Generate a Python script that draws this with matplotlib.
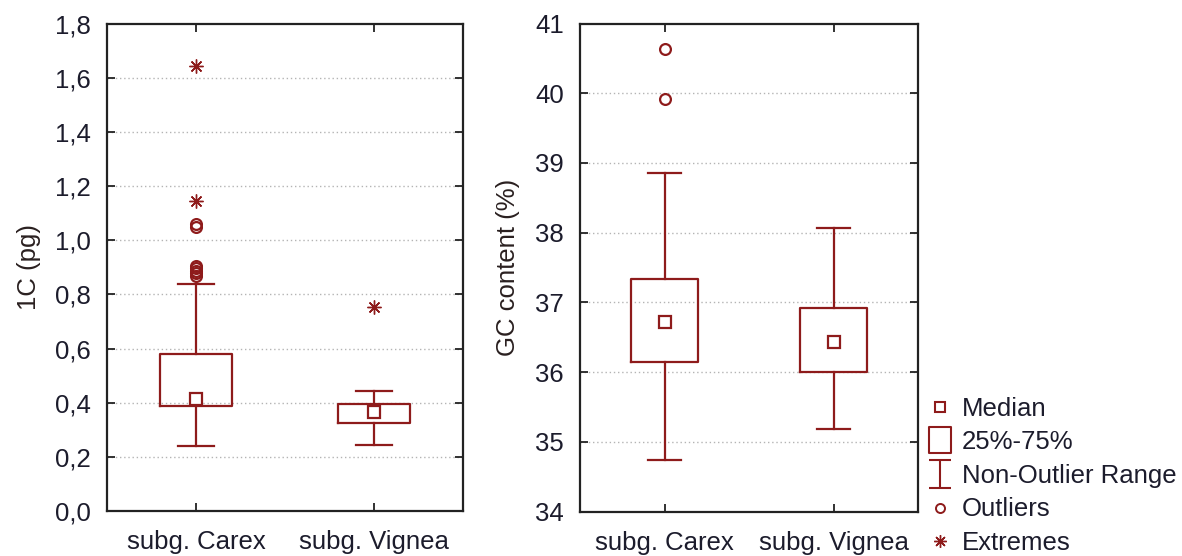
import matplotlib
matplotlib.use("Agg")
import matplotlib.pyplot as plt
from matplotlib.lines import Line2D
from matplotlib.path import Path

plt.rcParams['font.family'] = ['Liberation Sans', 'DejaVu Sans']

# ---------------- data ----------------
categories = ["subg. Carex", "subg. Vignea"]

# 1C (pg)
c1_median = [0.414, 0.364]
c1_q1 = [0.387, 0.326]
c1_q3 = [0.579, 0.394]
c1_whislo = [0.239, 0.245]
c1_whishi = [0.838, 0.445]
c1_outliers = [[0.868, 0.878, 0.888, 0.897, 0.905, 1.05, 1.06], []]
c1_extremes = [[1.146, 1.645], [0.755]]
c1_ticks = [0.0, 0.2, 0.4, 0.6, 0.8, 1.0, 1.2, 1.4, 1.6, 1.8]

# GC content (%)
gc_median = [36.72, 36.43]
gc_q1 = [36.14, 36.00]
gc_q3 = [37.33, 36.92]
gc_whislo = [34.74, 35.19]
gc_whishi = [38.85, 38.07]
gc_outliers = [[39.91, 40.64], []]
gc_extremes = [[], []]
gc_ticks = [34, 35, 36, 37, 38, 39, 40, 41]

legend_labels = ["Median", "25%-75%", "Non-Outlier Range", "Outliers", "Extremes"]

# ---------------- style ----------------
RED = '#8e1b1b'
TXT = '#1c1c2c'
FS = 18.5
W, H = 1182, 556
fig = plt.figure(figsize=(W / 100, H / 100), dpi=100)

ast_marker = (8, 2, 0)


def panel(rect, med, q1, q3, wlo, whi, outl, extr, ticks, ylabel, fmt):
    ax = fig.add_axes(rect)
    pos = list(range(1, len(categories) + 1))
    stats = []
    for i in range(len(categories)):
        stats.append(dict(med=med[i], q1=q1[i], q3=q3[i], whislo=wlo[i],
                          whishi=whi[i], fliers=[], label=categories[i]))
    ax.bxp(stats, positions=pos, widths=0.4, capwidths=0.2, showfliers=False,
           boxprops=dict(color=RED, linewidth=1.6),
           whiskerprops=dict(color=RED, linewidth=1.6),
           capprops=dict(color=RED, linewidth=1.6),
           medianprops=dict(linestyle='none'))
    ax.plot(pos, med, ls='none', marker='s', ms=8.5, mfc='white', mec=RED,
            mew=1.6, zorder=5)
    for p, vals in zip(pos, outl):
        if vals:
            ax.plot([p] * len(vals), vals, ls='none', marker='o', ms=7.8,
                    mfc='none', mec=RED, mew=1.6, zorder=5)
    for p, vals in zip(pos, extr):
        if vals:
            ax.plot([p] * len(vals), vals, ls='none', marker=ast_marker, ms=10,
                    mec=RED, mew=1.0, zorder=5)
    ax.set_xlim(0.5, 2.5)
    ax.set_ylim(ticks[0], ticks[-1])
    ax.set_yticks(ticks)
    ax.set_yticklabels([fmt(t) for t in ticks])
    ax.set_xticks(pos)
    ax.set_xticklabels(categories)
    for t in ticks[1:-1]:
        ax.axhline(t, color='#b4b4b4', lw=1.0, ls=(0, (1, 2)), zorder=0)
    ax.tick_params(axis='both', direction='in', length=6, width=1.3,
                   labelsize=FS, labelcolor=TXT, color='#222222',
                   top=True, right=True)
    ax.tick_params(axis='x', pad=14)
    ax.tick_params(axis='y', pad=11.5)
    for s in ax.spines.values():
        s.set_linewidth(1.6)
        s.set_color('#222222')
    ax.set_ylabel(ylabel, fontsize=FS, color='#2a2020')
    return ax


ax1 = panel([107 / W, 1 - 511 / H, 356 / W, 487.3 / H],
            c1_median, c1_q1, c1_q3, c1_whislo, c1_whishi, c1_outliers,
            c1_extremes, c1_ticks, "1C (pg)",
            lambda t: f"{t:.1f}".replace('.', ','))
ax1.yaxis.set_label_coords(-0.186, 0.5)

ax2 = panel([580 / W, 1 - 511.5 / H, 338 / W, 488 / H],
            gc_median, gc_q1, gc_q3, gc_whislo, gc_whishi, gc_outliers,
            gc_extremes, gc_ticks, "GC content (%)",
            lambda t: f"{t:d}")
ax2.yaxis.set_label_coords(-0.178, 0.5)

# ---------------- legend ----------------
box_path = Path([(-0.42, -0.5), (0.42, -0.5), (0.42, 0.5), (-0.42, 0.5), (-0.42, -0.5)],
                [Path.MOVETO, Path.LINETO, Path.LINETO, Path.LINETO, Path.CLOSEPOLY])
ibeam_path = Path([(-0.4, 0.5), (0.4, 0.5), (0, 0.5), (0, -0.5), (-0.4, -0.5), (0.4, -0.5)],
                  [Path.MOVETO, Path.LINETO, Path.MOVETO, Path.LINETO, Path.MOVETO, Path.LINETO])
handles = [
    Line2D([], [], ls='none', marker='s', ms=7.0, mfc='none', mec=RED, mew=1.5),
    Line2D([], [], ls='none', marker=box_path, ms=19, mfc='none', mec=RED, mew=1.5),
    Line2D([], [], ls='none', marker=ibeam_path, ms=20, mfc='none', mec=RED, mew=1.5),
    Line2D([], [], ls='none', marker='o', ms=6.5, mfc='none', mec=RED, mew=1.4),
    Line2D([], [], ls='none', marker=ast_marker, ms=9, mec=RED, mew=1.0),
]
fig.legend(handles, legend_labels, loc='lower left',
           bbox_to_anchor=(927 / W, 1 / H), frameon=False, fontsize=FS,
           handlelength=1.0, handletextpad=0.36, labelspacing=0.37,
           borderpad=0, borderaxespad=0, labelcolor=TXT)

fig.savefig("out.png", dpi=100)
